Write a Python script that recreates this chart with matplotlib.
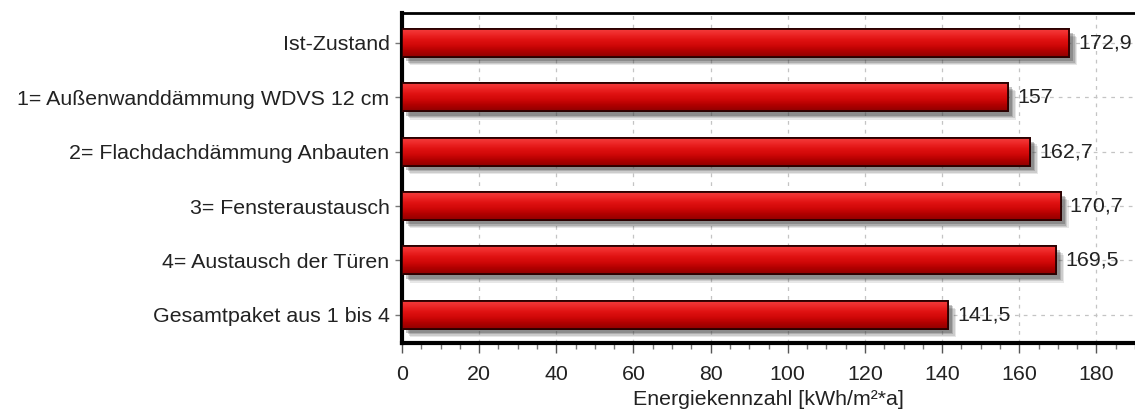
import numpy as np
import matplotlib
matplotlib.use('Agg')
import matplotlib.pyplot as plt
import matplotlib.patheffects as pe
from matplotlib.colors import LinearSegmentedColormap
from matplotlib.ticker import MultipleLocator

plt.rcParams['font.family'] = ['Liberation Sans', 'DejaVu Sans']

# Energiekennzahl je Sanierungsvariante
varianten = ['Ist-Zustand',
             '1= Außenwanddämmung WDVS 12 cm',
             '2= Flachdachdämmung Anbauten',
             '3= Fensteraustausch',
             '4= Austausch der Türen',
             'Gesamtpaket aus 1 bis 4']
werte = [172.9, 157, 162.7, 170.7, 169.5, 141.5]

fs = 15.4

fig = plt.figure(figsize=(11.35, 4.12), dpi=100)
ax = fig.add_axes([0.3542, 0.1675, 0.6458, 0.8009])

y = np.arange(len(varianten))
hoehe = 0.52

# weicher schatten rechts unten
schatten = [pe.SimplePatchShadow(offset=(d, -d), shadow_rgbFace='0.25', alpha=a)
            for d, a in ((6, 0.12), (5, 0.16), (4, 0.22), (3, 0.3))]
bars = ax.barh(y, werte, height=hoehe, color='#d81010', edgecolor='#2a0000',
               linewidth=1.3, zorder=3,
               path_effects=schatten + [pe.Normal()])

# roter farbverlauf in den balken
cmap = LinearSegmentedColormap.from_list(
    'rot', ['#f44040', '#ee2828', '#e01212', '#d00808', '#b00000', '#900000'])
grad = np.linspace(0, 1, 64).reshape(-1, 1)
for b in bars:
    x0, y0 = b.get_x(), b.get_y()
    w, h = b.get_width(), b.get_height()
    im = ax.imshow(grad, cmap=cmap, aspect='auto', interpolation='bilinear',
                   extent=(x0, x0 + w, y0 + h, y0), zorder=3.5)
    im.set_clip_path(b)
    rand = plt.Rectangle((x0, y0), w, h, fill=False, edgecolor='#2a0000',
                         linewidth=1.3, zorder=4)
    ax.add_patch(rand)

for yi, v in zip(y, werte):
    ax.text(v + 2.4, yi, f'{v:g}'.replace('.', ','), va='center', ha='left',
            fontsize=fs, color='#222222', zorder=5)

ax.set_xlim(0, 190)
ax.set_ylim(len(varianten) - 0.48, -0.55)
ax.set_yticks(y)
ax.set_yticklabels(varianten)
ax.xaxis.set_major_locator(MultipleLocator(20))
ax.xaxis.set_minor_locator(MultipleLocator(5))
ax.set_xlabel('Energiekennzahl [kWh/m²*a]', fontsize=fs, color='#222222', labelpad=4)

ax.tick_params(axis='x', which='major', length=7, width=1, color='#555555',
               labelsize=fs, labelcolor='#222222', pad=9)
ax.tick_params(axis='x', which='minor', length=4, width=1, color='#777777')
ax.tick_params(axis='y', length=5, width=1, color='#777777',
               labelsize=fs, labelcolor='#222222', pad=4)

ax.grid(True, which='major', color='#c4c4c4', linestyle=(0, (3, 4)), linewidth=0.9, zorder=0)
ax.set_axisbelow(True)

ax.spines['left'].set_linewidth(3)
ax.spines['bottom'].set_linewidth(3)
ax.spines['top'].set_linewidth(2)
ax.spines['right'].set_visible(False)

fig.savefig('out.png', dpi=100)
